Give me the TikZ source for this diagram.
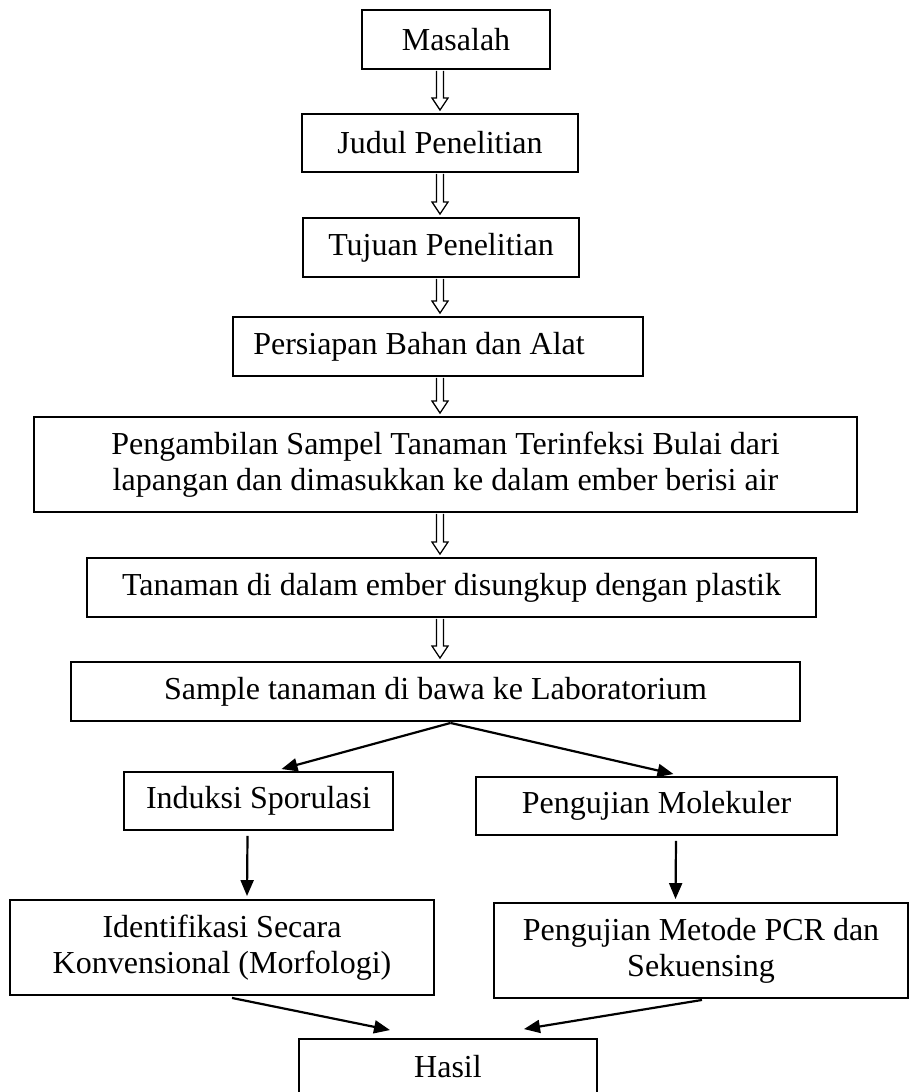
\documentclass[tikz,border=0pt]{standalone}
\usepackage{fontspec}
\setmainfont{Liberation Serif}
\usetikzlibrary{calc,arrows.meta}
\tikzset{
  box/.style={draw, line width=1.9pt, inner sep=0pt, align=center, fill=white,
    font=\fontsize{32}{36}\selectfont},
  arr/.style={line width=2.2pt, -{Triangle[length=16pt,width=13pt]}},
  hollow/.style={draw, line width=1.3pt, fill=white, line join=miter},
}
% hollow down arrow between two nodes on the axis x=440
\newcommand{\hollowdown}[2]{%
  \draw[hollow] ($(#1.south -| axis)+(-3.5,1)$) -- ($(#2.north -| axis)+(-3.5,-15)$)
    -- ($(#2.north -| axis)+(-8,-15)$) -- ($(#2.north -| axis)+(0,-3)$)
    -- ($(#2.north -| axis)+(8,-15)$) -- ($(#2.north -| axis)+(3.5,-15)$)
    -- ($(#1.south -| axis)+(3.5,1)$);}
\begin{document}
\begin{tikzpicture}[x=1pt,y=-1pt]
\clip (0,0) rectangle (910,1092);
\fill[white] (0,0) rectangle (910,1092);
\coordinate (axis) at (440,0);

\node[box, minimum width=188pt, minimum height=59pt] (masalah) at (456,39.5) {Masalah};
\node[box, minimum width=276pt, minimum height=58pt] (judul) at (440,143) {Judul Penelitian};
\node[box, minimum width=276pt, minimum height=59pt] (tujuan) at (441,247.5) {Tujuan Penelitian};
\node[box, minimum width=410pt, minimum height=59pt] (persiapan) at (438,346.5) {Persiapan Bahan dan Alat\hspace*{38pt}};
\node[box, minimum width=823pt, minimum height=95pt] (pengambilan) at (445.5,464.5) {Pengambilan Sampel Tanaman Terinfeksi Bulai dari\\lapangan dan dimasukkan ke dalam ember berisi air};
\node[box, minimum width=729pt, minimum height=59pt] (tanaman) at (451.5,587.5) {Tanaman di dalam ember disungkup dengan plastik};
\node[box, minimum width=729pt, minimum height=59pt] (sample) at (435.5,691.5) {Sample tanaman di bawa ke Laboratorium};
\node[box, minimum width=269pt, minimum height=58pt] (induksi) at (258.5,801) {Induksi Sporulasi};
\node[box, minimum width=361pt, minimum height=58pt] (molekuler) at (656.5,806) {Pengujian Molekuler};
\node[box, minimum width=424pt, minimum height=95pt] (identifikasi) at (222,947.5) {Identifikasi Secara\\Konvensional (Morfologi)};
\node[box, minimum width=414pt, minimum height=95pt] (pcr) at (701,950.5) {Pengujian Metode PCR dan\\Sekuensing};
\node[box, minimum width=298pt, minimum height=56pt] (hasil) at (448,1067) {Hasil};

\hollowdown{masalah}{judul}
\hollowdown{judul}{tujuan}
\hollowdown{tujuan}{persiapan}
\hollowdown{persiapan}{pengambilan}
\hollowdown{pengambilan}{tanaman}
\hollowdown{tanaman}{sample}

\draw[arr] ($(sample.south)+(15,1)$) -- ($(induksi.north)+(23,-2)$);
\draw[arr] ($(sample.south)+(15,1)$) -- ($(molekuler.north)+(17,-2)$);
\draw[arr] ($(induksi.south)+(-11,5)$) -- ($(identifikasi.north)+(25,-3)$);
\draw[arr] ($(molekuler.south)+(19.5,5)$) -- ($(pcr.north)+(-25.5,-3)$);
\draw[arr] ($(identifikasi.south)+(10,2)$) -- ($(hasil.north)+(-58,-8)$);
\draw[arr] ($(pcr.south)+(1,1)$) -- ($(hasil.north)+(76,-9)$);
\end{tikzpicture}
\end{document}
